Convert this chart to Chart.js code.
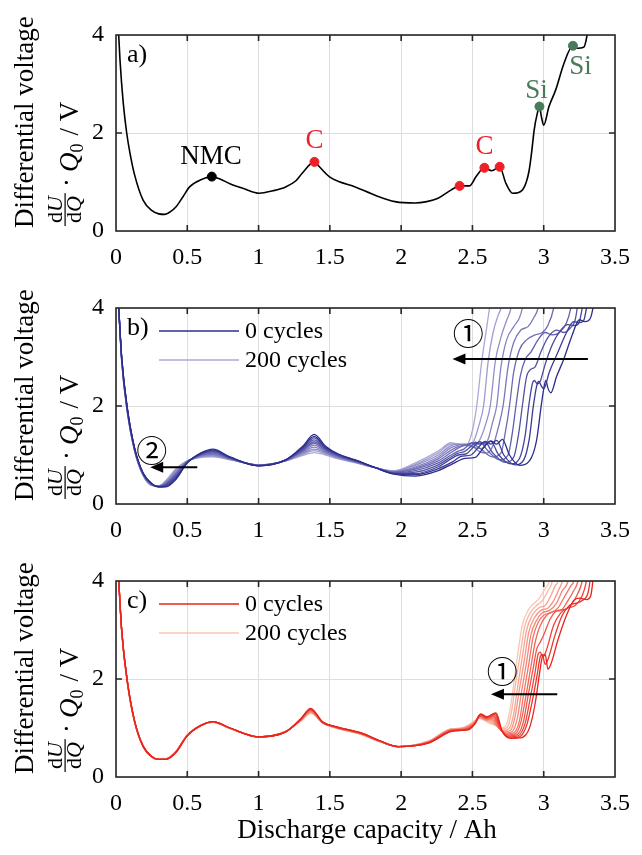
<!DOCTYPE html>
<html>
<head>
<meta charset="utf-8">
<script src="https://cdn.jsdelivr.net/npm/chart.js@4.4.1/dist/chart.umd.min.js"></script>
<style>
  html, body { margin: 0; padding: 0; background: #fff; }
  #wrap { position: relative; width: 642px; height: 855px; }
  canvas { position: absolute; left: 0; }
</style>
</head>
<body>
<div id="wrap">
  <canvas id="chartA" width="642" height="273" style="top:0"></canvas>
  <canvas id="chartB" width="642" height="273" style="top:273px"></canvas>
  <canvas id="chartC" width="642" height="309" style="top:546px"></canvas>
</div>
<script>
// ---- data ----
const cycleCounts = [0, 20, 40, 60, 80, 100, 120, 140, 160, 180, 200];

// a) single reference curve, [capacity Ah, dU/dQ*Q0 V]
const curveA = [[0.012,4.4],[0.028,3.49],[0.051,2.61],[0.075,2.0],[0.098,1.59],[0.13,1.15],[0.19,0.63],[0.25,0.42],[0.3,0.35],[0.342,0.34],[0.38,0.39],[0.423,0.50],[0.47,0.70],[0.516,0.90],[0.6,1.05],[0.672,1.11],[0.73,1.06],[0.795,0.97],[0.9,0.86],[1.004,0.77],[1.1,0.82],[1.19,0.90],[1.26,1.02],[1.306,1.18],[1.392,1.41],[1.43,1.3],[1.469,1.18],[1.5,1.1],[1.562,1.01],[1.678,0.90],[1.818,0.73],[1.957,0.60],[2.097,0.57],[2.18,0.6],[2.259,0.67],[2.352,0.84],[2.41,0.92],[2.48,0.92],[2.526,1.11],[2.584,1.29],[2.635,1.23],[2.691,1.31],[2.735,0.97],[2.782,0.77],[2.82,0.78],[2.852,0.84],[2.878,1.0],[2.898,1.24],[2.915,1.6],[2.933,2.06],[2.955,2.4],[2.97,2.54],[2.984,2.33],[3.0,2.16],[3.037,2.54],[3.084,2.88],[3.142,3.42],[3.205,3.78],[3.235,3.73],[3.28,3.75],[3.304,4.0],[3.32,4.4]];
const nmcPoints = [[0.672,1.11]];
const carbonPoints = [[1.392,1.41],[2.41,0.92],[2.584,1.29],[2.691,1.31]];
const siliconPoints = [[2.97,2.54],[3.205,3.78]];
const nmcLabels = [['NMC',0.667,1.52]];
const carbonLabels = [['C',1.392,1.83],['C',2.584,1.72]];
const siliconLabels = [['Si',2.95,2.85],['Si',3.258,3.34]];

// b) cycling series, shared capacity grid for the low-capacity part
const gridB = [0.012,0.04,0.08,0.13,0.19,0.25,0.3,0.35,0.42,0.5,0.6,0.68,0.8,1.0,1.19,1.31,1.39,1.47,1.56,1.68,1.82,1.95,2.1,2.26];
const leftB = [
  [4.4,3.00,1.95,1.15,0.63,0.42,0.35,0.35,0.50,0.84,1.05,1.12,0.96,0.78,0.90,1.18,1.42,1.18,1.02,0.90,0.74,0.61,0.57,0.68],
  [4.4,2.99,1.94,1.14,0.63,0.42,0.35,0.36,0.52,0.84,1.04,1.10,0.95,0.78,0.90,1.16,1.38,1.16,1.01,0.89,0.74,0.62,0.60,0.72],
  [4.4,2.98,1.93,1.14,0.62,0.41,0.35,0.38,0.54,0.85,1.03,1.09,0.95,0.78,0.90,1.14,1.35,1.14,1.00,0.89,0.74,0.62,0.62,0.76],
  [4.4,2.97,1.92,1.13,0.62,0.41,0.36,0.39,0.57,0.85,1.02,1.07,0.94,0.79,0.89,1.12,1.31,1.13,0.99,0.88,0.74,0.63,0.65,0.80],
  [4.4,2.96,1.91,1.12,0.61,0.40,0.36,0.40,0.59,0.86,1.01,1.06,0.94,0.79,0.89,1.10,1.27,1.11,0.98,0.88,0.74,0.64,0.68,0.84],
  [4.4,2.95,1.90,1.12,0.61,0.40,0.36,0.42,0.61,0.86,1.00,1.04,0.93,0.79,0.89,1.09,1.24,1.09,0.97,0.87,0.74,0.65,0.71,0.88],
  [4.4,2.94,1.89,1.11,0.60,0.40,0.36,0.43,0.63,0.86,0.99,1.02,0.92,0.79,0.89,1.07,1.20,1.07,0.96,0.86,0.74,0.65,0.73,0.92],
  [4.4,2.93,1.88,1.10,0.60,0.39,0.36,0.44,0.65,0.87,0.98,1.01,0.92,0.79,0.89,1.05,1.16,1.05,0.95,0.86,0.74,0.66,0.76,0.96],
  [4.4,2.92,1.87,1.09,0.59,0.39,0.37,0.45,0.68,0.87,0.97,0.99,0.91,0.80,0.88,1.03,1.12,1.04,0.94,0.85,0.74,0.67,0.79,1.00],
  [4.4,2.91,1.86,1.09,0.59,0.38,0.37,0.47,0.70,0.88,0.96,0.98,0.91,0.80,0.88,1.01,1.09,1.02,0.93,0.85,0.74,0.67,0.81,1.04],
  [4.4,2.90,1.85,1.08,0.58,0.38,0.37,0.48,0.72,0.88,0.95,0.96,0.90,0.80,0.88,0.99,1.05,1.00,0.92,0.84,0.74,0.68,0.84,1.08]
];
const rightB = [
  [[2.36,0.82],[2.45,0.93],[2.52,0.95],[2.57,1.12],[2.63,1.29],[2.67,1.22],[2.71,1.32],[2.76,1.0],[2.83,0.79],[2.9,0.88],[2.95,1.3],[2.98,1.95],[3.0,2.35],[3.015,2.52],[3.03,2.36],[3.05,2.27],[3.09,2.6],[3.14,2.95],[3.2,3.45],[3.25,3.76],[3.29,3.72],[3.325,3.78],[3.345,4.0],[3.36,4.4]],
  [[2.36,0.86],[2.42,0.97],[2.49,1.0],[2.54,1.15],[2.59,1.28],[2.63,1.22],[2.67,1.3],[2.72,1.0],[2.8,0.8],[2.86,0.9],[2.9,1.35],[2.925,1.95],[2.95,2.4],[2.965,2.5],[2.985,2.4],[3.0,2.35],[3.04,2.7],[3.1,3.1],[3.16,3.5],[3.21,3.72],[3.25,3.7],[3.28,3.74],[3.3,4.0],[3.32,4.4]],
  [[2.35,0.92],[2.4,1.0],[2.46,1.03],[2.51,1.17],[2.55,1.27],[2.59,1.22],[2.63,1.28],[2.68,1.02],[2.77,0.82],[2.83,0.93],[2.87,1.4],[2.895,2.0],[2.92,2.45],[2.935,2.52],[2.955,2.45],[2.975,2.5],[3.01,2.85],[3.06,3.25],[3.12,3.55],[3.17,3.66],[3.22,3.64],[3.25,3.72],[3.27,4.0],[3.29,4.4]],
  [[2.35,0.96],[2.4,1.04],[2.45,1.08],[2.49,1.18],[2.52,1.26],[2.56,1.22],[2.59,1.26],[2.64,1.05],[2.73,0.85],[2.79,0.96],[2.825,1.45],[2.85,2.0],[2.88,2.6],[2.91,2.75],[2.94,2.8],[2.98,3.1],[3.03,3.4],[3.09,3.55],[3.14,3.5],[3.19,3.6],[3.22,3.75],[3.235,4.0],[3.25,4.4]],
  [[2.35,1.0],[2.4,1.08],[2.44,1.12],[2.47,1.2],[2.5,1.25],[2.54,1.22],[2.56,1.24],[2.61,1.08],[2.69,0.9],[2.75,1.0],[2.78,1.45],[2.805,2.0],[2.835,2.6],[2.87,2.95],[2.91,3.1],[2.96,3.35],[3.01,3.5],[3.06,3.45],[3.11,3.5],[3.16,3.7],[3.19,4.0],[3.21,4.4]],
  [[2.35,1.05],[2.4,1.14],[2.45,1.2],[2.49,1.24],[2.52,1.2],[2.56,1.12],[2.64,0.96],[2.7,1.04],[2.73,1.45],[2.76,2.0],[2.79,2.7],[2.83,3.15],[2.88,3.35],[2.94,3.45],[2.99,3.5],[3.03,3.65],[3.07,4.0],[3.09,4.4]],
  [[2.35,1.1],[2.4,1.17],[2.45,1.21],[2.5,1.18],[2.55,1.07],[2.6,1.04],[2.645,1.2],[2.685,1.6],[2.715,2.0],[2.75,2.8],[2.79,3.3],[2.84,3.55],[2.89,3.62],[2.93,3.8],[2.96,4.0],[2.98,4.4]],
  [[2.35,1.15],[2.4,1.2],[2.45,1.22],[2.5,1.16],[2.56,1.13],[2.61,1.32],[2.64,1.65],[2.67,2.0],[2.7,2.8],[2.74,3.35],[2.79,3.62],[2.83,3.8],[2.85,4.0],[2.87,4.4]],
  [[2.35,1.19],[2.4,1.22],[2.45,1.2],[2.5,1.18],[2.55,1.3],[2.595,1.65],[2.625,2.0],[2.66,2.9],[2.7,3.4],[2.74,3.75],[2.77,4.0],[2.79,4.4]],
  [[2.35,1.22],[2.4,1.22],[2.45,1.2],[2.5,1.24],[2.545,1.6],[2.578,2.0],[2.61,2.9],[2.645,3.5],[2.68,3.85],[2.7,4.0],[2.72,4.4]],
  [[2.35,1.25],[2.4,1.22],[2.46,1.22],[2.5,1.5],[2.53,2.0],[2.565,2.9],[2.6,3.6],[2.62,4.0],[2.64,4.4]]
];

// c) second cycling series
const gridC = [0.012,0.04,0.08,0.13,0.19,0.25,0.3,0.35,0.42,0.5,0.6,0.68,0.8,1.0,1.19,1.3,1.365,1.45,1.54,1.72,1.85,1.98,2.19,2.35];
const leftC = [
  [4.4,3.00,1.95,1.15,0.63,0.42,0.36,0.36,0.50,0.84,1.06,1.13,1.00,0.82,0.92,1.20,1.40,1.12,1.03,0.90,0.74,0.62,0.69,0.93],
  [4.4,3.00,1.95,1.15,0.63,0.42,0.36,0.36,0.50,0.84,1.06,1.13,1.00,0.82,0.92,1.20,1.39,1.12,1.03,0.90,0.74,0.62,0.69,0.93],
  [4.4,2.99,1.94,1.14,0.63,0.42,0.36,0.36,0.51,0.85,1.06,1.13,1.00,0.82,0.92,1.19,1.38,1.12,1.02,0.89,0.74,0.62,0.70,0.94],
  [4.4,2.99,1.94,1.14,0.63,0.42,0.36,0.36,0.51,0.85,1.06,1.13,1.00,0.82,0.92,1.19,1.37,1.11,1.02,0.89,0.73,0.62,0.70,0.95],
  [4.4,2.98,1.93,1.14,0.63,0.42,0.36,0.36,0.51,0.85,1.06,1.13,1.00,0.82,0.92,1.18,1.36,1.11,1.02,0.89,0.73,0.62,0.71,0.95],
  [4.4,2.98,1.93,1.13,0.62,0.41,0.36,0.37,0.51,0.85,1.06,1.12,0.99,0.82,0.92,1.18,1.35,1.11,1.02,0.88,0.73,0.62,0.71,0.96],
  [4.4,2.97,1.92,1.13,0.62,0.41,0.36,0.37,0.51,0.85,1.06,1.12,0.99,0.82,0.93,1.17,1.34,1.11,1.01,0.88,0.73,0.62,0.71,0.96],
  [4.4,2.97,1.92,1.13,0.62,0.41,0.36,0.37,0.52,0.86,1.06,1.12,0.99,0.82,0.93,1.17,1.33,1.11,1.01,0.88,0.73,0.62,0.72,0.97],
  [4.4,2.96,1.91,1.12,0.62,0.41,0.36,0.37,0.52,0.86,1.06,1.12,0.99,0.82,0.93,1.16,1.32,1.10,1.01,0.87,0.72,0.62,0.72,0.97],
  [4.4,2.96,1.91,1.12,0.62,0.41,0.36,0.37,0.52,0.86,1.06,1.12,0.99,0.82,0.93,1.16,1.31,1.10,1.00,0.87,0.72,0.62,0.73,0.98],
  [4.4,2.95,1.90,1.12,0.62,0.41,0.36,0.37,0.52,0.86,1.06,1.12,0.99,0.82,0.93,1.15,1.30,1.10,1.00,0.87,0.72,0.62,0.73,0.98]
];
const rightC = [
  [[2.42,0.95],[2.47,0.96],[2.52,1.1],[2.56,1.29],[2.6,1.23],[2.665,1.31],[2.71,0.93],[2.77,0.79],[2.84,0.8],[2.9,1.0],[2.94,1.5],[2.97,2.1],[2.99,2.45],[3.01,2.5],[3.03,2.2],[3.05,2.3],[3.1,2.8],[3.16,3.3],[3.21,3.6],[3.25,3.65],[3.3,3.62],[3.33,3.7],[3.345,4.0],[3.36,4.4]],
  [[2.42,0.95],[2.47,0.97],[2.52,1.1],[2.555,1.28],[2.6,1.22],[2.66,1.3],[2.705,0.95],[2.76,0.8],[2.83,0.82],[2.88,1.05],[2.92,1.55],[2.955,2.1],[2.975,2.45],[2.99,2.5],[3.01,2.3],[3.03,2.4],[3.08,2.9],[3.13,3.3],[3.18,3.5],[3.23,3.55],[3.27,3.6],[3.31,3.75],[3.325,4.0],[3.34,4.4]],
  [[2.42,0.96],[2.47,0.98],[2.52,1.1],[2.555,1.27],[2.6,1.21],[2.655,1.28],[2.7,0.97],[2.755,0.82],[2.82,0.84],[2.87,1.1],[2.905,1.6],[2.94,2.15],[2.96,2.5],[2.975,2.55],[2.995,2.45],[3.02,2.6],[3.07,3.1],[3.12,3.35],[3.17,3.45],[3.22,3.5],[3.27,3.7],[3.3,4.0],[3.32,4.4]],
  [[2.42,0.96],[2.47,0.99],[2.52,1.1],[2.55,1.26],[2.6,1.2],[2.65,1.25],[2.695,0.98],[2.75,0.84],[2.81,0.86],[2.855,1.1],[2.89,1.65],[2.925,2.2],[2.95,2.6],[2.975,2.75],[3.0,2.9],[3.05,3.25],[3.1,3.4],[3.15,3.42],[3.2,3.55],[3.24,3.75],[3.27,4.0],[3.29,4.4]],
  [[2.42,0.97],[2.47,1.0],[2.52,1.11],[2.55,1.25],[2.6,1.19],[2.645,1.23],[2.69,1.0],[2.745,0.86],[2.8,0.88],[2.84,1.12],[2.875,1.65],[2.91,2.25],[2.94,2.75],[2.97,3.05],[3.02,3.3],[3.07,3.38],[3.12,3.4],[3.17,3.6],[3.21,3.8],[3.24,4.0],[3.26,4.4]],
  [[2.42,0.97],[2.47,1.01],[2.52,1.12],[2.55,1.24],[2.6,1.18],[2.64,1.2],[2.685,1.0],[2.74,0.88],[2.79,0.9],[2.83,1.15],[2.86,1.7],[2.895,2.3],[2.925,2.85],[2.96,3.15],[3.0,3.3],[3.05,3.35],[3.1,3.45],[3.15,3.7],[3.19,3.9],[3.21,4.0],[3.23,4.4]],
  [[2.42,0.98],[2.47,1.02],[2.52,1.12],[2.55,1.23],[2.6,1.17],[2.635,1.18],[2.68,1.02],[2.735,0.9],[2.78,0.93],[2.815,1.2],[2.845,1.75],[2.88,2.35],[2.91,2.9],[2.95,3.2],[2.99,3.35],[3.04,3.4],[3.09,3.55],[3.13,3.8],[3.17,4.0],[3.19,4.4]],
  [[2.42,0.98],[2.47,1.03],[2.52,1.13],[2.55,1.22],[2.6,1.16],[2.63,1.16],[2.675,1.03],[2.73,0.92],[2.77,0.96],[2.8,1.25],[2.83,1.8],[2.865,2.4],[2.895,2.95],[2.935,3.25],[2.98,3.4],[3.03,3.45],[3.07,3.6],[3.11,3.85],[3.13,4.0],[3.15,4.4]],
  [[2.42,0.99],[2.47,1.04],[2.52,1.14],[2.55,1.21],[2.6,1.15],[2.625,1.14],[2.67,1.04],[2.72,0.95],[2.76,1.0],[2.79,1.3],[2.815,1.8],[2.85,2.45],[2.88,3.0],[2.92,3.3],[2.965,3.45],[3.01,3.5],[3.05,3.7],[3.08,3.9],[3.1,4.0],[3.12,4.4]],
  [[2.42,0.99],[2.47,1.05],[2.52,1.15],[2.55,1.2],[2.6,1.14],[2.62,1.12],[2.665,1.05],[2.71,0.98],[2.75,1.04],[2.775,1.35],[2.8,1.85],[2.835,2.5],[2.865,3.05],[2.905,3.35],[2.95,3.5],[2.99,3.6],[3.03,3.8],[3.06,4.0],[3.08,4.4]],
  [[2.42,1.0],[2.47,1.06],[2.52,1.16],[2.55,1.19],[2.6,1.13],[2.615,1.1],[2.66,1.06],[2.7,1.0],[2.74,1.08],[2.765,1.4],[2.79,1.9],[2.82,2.55],[2.85,3.1],[2.89,3.4],[2.935,3.55],[2.97,3.65],[3.01,3.85],[3.04,4.0],[3.06,4.4]]
];

// arrows: [x from, x to, y], labels: [text, x, y]
const arrowsB = [[3.31, 2.36, 2.96], [0.57, 0.24, 0.75]];
const arrowLabelsB = [['\u2460', 2.47, 3.48], ['\u2461', 0.25, 1.10]];
const arrowsC = [[3.095, 2.63, 1.69]];
const arrowLabelsC = [['\u2460', 2.71, 2.15]];

// ---- styling helpers ----
const SERIF = '"Liberation Serif", "Times New Roman", serif';
Chart.defaults.font.family = SERIF;
Chart.defaults.color = '#000';

const blueDark = [44, 46, 142], blueLight = [172, 168, 215];
const redDark = [233, 36, 28], redLight = [250, 198, 178];
function shade(a, b, t) {
  return 'rgb(' + a.map((v, i) => Math.round(v + (b[i] - v) * t)).join(',') + ')';
}

function toXY(pairs) { return pairs.map(p => ({ x: p[0], y: p[1] })); }
function buildCurve(grid, left, right) {
  return grid.map((x, i) => ({ x, y: left[i] })).concat(toXY(right));
}

function cycleDatasets(grid, left, right, c0, c1) {
  return cycleCounts.map((n, k) => ({
    label: n + ' cycles',
    data: buildCurve(grid, left[k], right[k]),
    borderColor: shade(c0, c1, k / (cycleCounts.length - 1)),
    borderWidth: 1.3
  }));
}

// box with inward ticks, drawn on top of the curves
const framePlugin = {
  id: 'frame',
  afterDraw(chart) {
    const { ctx, chartArea: { left, right, top, bottom }, scales: { x, y } } = chart;
    ctx.save();
    ctx.strokeStyle = '#262626';
    ctx.lineWidth = 1.6;
    ctx.beginPath();
    [0.5, 1, 1.5, 2, 2.5, 3].forEach(v => {
      const px = x.getPixelForValue(v);
      ctx.moveTo(px, bottom); ctx.lineTo(px, bottom - 6);
      ctx.moveTo(px, top); ctx.lineTo(px, top + 6);
    });
    const py = y.getPixelForValue(2);
    ctx.moveTo(left, py); ctx.lineTo(left + 6, py);
    ctx.moveTo(right, py); ctx.lineTo(right - 6, py);
    ctx.stroke();
    ctx.strokeRect(left, top, right - left, bottom - top);
    ctx.restore();
  }
};

// two-line rotated y label with the dU/dQ fraction
const yTitlePlugin = {
  id: 'yTitle',
  afterDraw(chart) {
    const ctx = chart.ctx;
    ctx.save();
    ctx.translate(0, 228);
    ctx.rotate(-Math.PI / 2);
    ctx.fillStyle = '#000';
    ctx.textBaseline = 'alphabetic';
    ctx.textAlign = 'left';
    ctx.font = '27px ' + SERIF;
    ctx.fillText('Differential voltage', 0, 33);

    const base = 78;
    const fs = '22px ' + SERIF, fsi = 'italic 22px ' + SERIF;
    ctx.font = fs; const wd = ctx.measureText('d').width;
    ctx.font = fsi; const wU = ctx.measureText('U').width, wQ = ctx.measureText('Q').width;
    const fw = Math.max(wd + wU, wd + wQ) + 6;
    let u = 2;
    const drawPair = (letter, w, v) => {
      const s = u + (fw - wd - w) / 2;
      ctx.font = fs; ctx.fillText('d', s, v);
      ctx.font = fsi; ctx.fillText(letter, s + wd, v);
    };
    drawPair('U', wU, base - 16);
    drawPair('Q', wQ, base + 3);
    ctx.fillRect(u, base - 13.5, fw, 1.2);
    u += fw + 6;
    ctx.font = '27px ' + SERIF;
    ctx.fillText('\u00b7', u, base - 2);
    u += ctx.measureText('\u00b7').width + 6;
    ctx.font = 'italic 27px ' + SERIF;
    ctx.fillText('Q', u, base);
    u += ctx.measureText('Q').width;
    ctx.font = '18px ' + SERIF;
    ctx.fillText('0', u, base + 5);
    u += ctx.measureText('0').width + 8;
    ctx.font = '27px ' + SERIF;
    ctx.fillText('/ V', u, base);
    ctx.restore();
  }
};

function drawText(ctx, text, x, y, color, font, align) {
  ctx.fillStyle = color;
  ctx.font = font;
  ctx.textAlign = align || 'center';
  ctx.textBaseline = 'middle';
  ctx.fillText(text, x, y);
}

function drawArrow(ctx, x0, x1, y) {
  ctx.strokeStyle = '#000';
  ctx.fillStyle = '#000';
  ctx.lineWidth = 2;
  ctx.beginPath();
  ctx.moveTo(x0, y); ctx.lineTo(x1 + 10, y);
  ctx.stroke();
  ctx.beginPath();
  ctx.moveTo(x1, y); ctx.lineTo(x1 + 13, y - 5.5); ctx.lineTo(x1 + 13, y + 5.5);
  ctx.closePath();
  ctx.fill();
}

function notesPlugin(letter, extra) {
  return {
    id: 'notes' + letter,
    afterDraw(chart) {
      const ctx = chart.ctx;
      ctx.save();
      drawText(ctx, letter + ')', 127, 55, '#000', '26px ' + SERIF, 'left');
      extra(chart, ctx);
      ctx.restore();
    }
  };
}

function drawLegend(ctx, c0, c1) {
  [[c0, '0 cycles', 58], [c1, '200 cycles', 87]].forEach(([col, txt, y]) => {
    ctx.strokeStyle = col; ctx.lineWidth = 1.6;
    ctx.beginPath(); ctx.moveTo(159, y); ctx.lineTo(239, y); ctx.stroke();
    drawText(ctx, txt, 245, y + 1, '#000', '24px ' + SERIF, 'left');
  });
}

function drawArrows(chart, ctx, arrows, labels) {
  const { x, y } = chart.scales;
  arrows.forEach(([a, b, v]) => drawArrow(ctx, x.getPixelForValue(a), x.getPixelForValue(b), y.getPixelForValue(v)));
  labels.forEach(([t, a, v]) => drawText(ctx, t, x.getPixelForValue(a), y.getPixelForValue(v), '#000',
    '31px "Noto Sans CJK JP", "DejaVu Sans", ' + SERIF));
}

function makeChart(id, datasets, plugin, xAxisHeight) {
  return new Chart(document.getElementById(id), {
    type: 'line',
    data: { datasets },
    options: {
      responsive: false,
      animation: false,
      layout: { padding: { top: 35, right: 24, left: 0, bottom: 0 } },
      plugins: { legend: { display: false }, tooltip: { enabled: false } },
      elements: {
        point: { radius: 0 },
        line: { cubicInterpolationMode: 'monotone' }
      },
      scales: {
        x: {
          type: 'linear', min: 0, max: 3.5,
          ticks: { stepSize: 0.5, padding: 12, autoSkip: false, maxRotation: 0, font: { size: 24 },
                   callback: v => String(v) },
          grid: { color: '#dedede', lineWidth: 1, drawTicks: false },
          border: { display: false },
          afterFit(scale) { scale.height = xAxisHeight; }
        },
        y: {
          min: 0, max: 4,
          ticks: { stepSize: 2, padding: 12, font: { size: 24 }, callback: v => String(v) },
          grid: { color: '#dedede', lineWidth: 1, drawTicks: false },
          border: { display: false },
          afterFit(scale) { scale.width = 116; }
        }
      }
    },
    plugins: [framePlugin, yTitlePlugin, plugin]
  });
}

// ---- a) ----
const markerSet = (pts, color) => ({
  data: toXY(pts), showLine: false, pointRadius: 4.5, pointBackgroundColor: color,
  pointBorderColor: color, borderColor: color
});
makeChart('chartA', [
  markerSet(nmcPoints, '#000'),
  markerSet(carbonPoints, '#ee1f26'),
  markerSet(siliconPoints, '#477b59'),
  { data: toXY(curveA), borderColor: '#000', borderWidth: 1.6 }
], notesPlugin('a', (chart, ctx) => {
  const { x, y } = chart.scales;
  const f = '27px ' + SERIF;
  nmcLabels.forEach(([t, a, v]) => drawText(ctx, t, x.getPixelForValue(a), y.getPixelForValue(v), '#000', f));
  carbonLabels.forEach(([t, a, v]) => drawText(ctx, t, x.getPixelForValue(a), y.getPixelForValue(v), '#ee1f26', f));
  siliconLabels.forEach(([t, a, v]) => drawText(ctx, t, x.getPixelForValue(a), y.getPixelForValue(v), '#477b59', f));
}), 42);

// ---- b) ----
makeChart('chartB', cycleDatasets(gridB, leftB, rightB, blueDark, blueLight),
  notesPlugin('b', (chart, ctx) => {
    drawLegend(ctx, shade(blueDark, blueLight, 0), shade(blueDark, blueLight, 1));
    drawArrows(chart, ctx, arrowsB, arrowLabelsB);
  }), 42);

// ---- c) ----
makeChart('chartC', cycleDatasets(gridC, leftC, rightC, redDark, redLight),
  notesPlugin('c', (chart, ctx) => {
    drawLegend(ctx, shade(redDark, redLight, 0), shade(redDark, redLight, 1));
    drawArrows(chart, ctx, arrowsC, arrowLabelsC);
    drawText(ctx, 'Discharge capacity / Ah', 367, 285, '#000', '27px ' + SERIF);
  }), 78);
</script>
</body>
</html>
